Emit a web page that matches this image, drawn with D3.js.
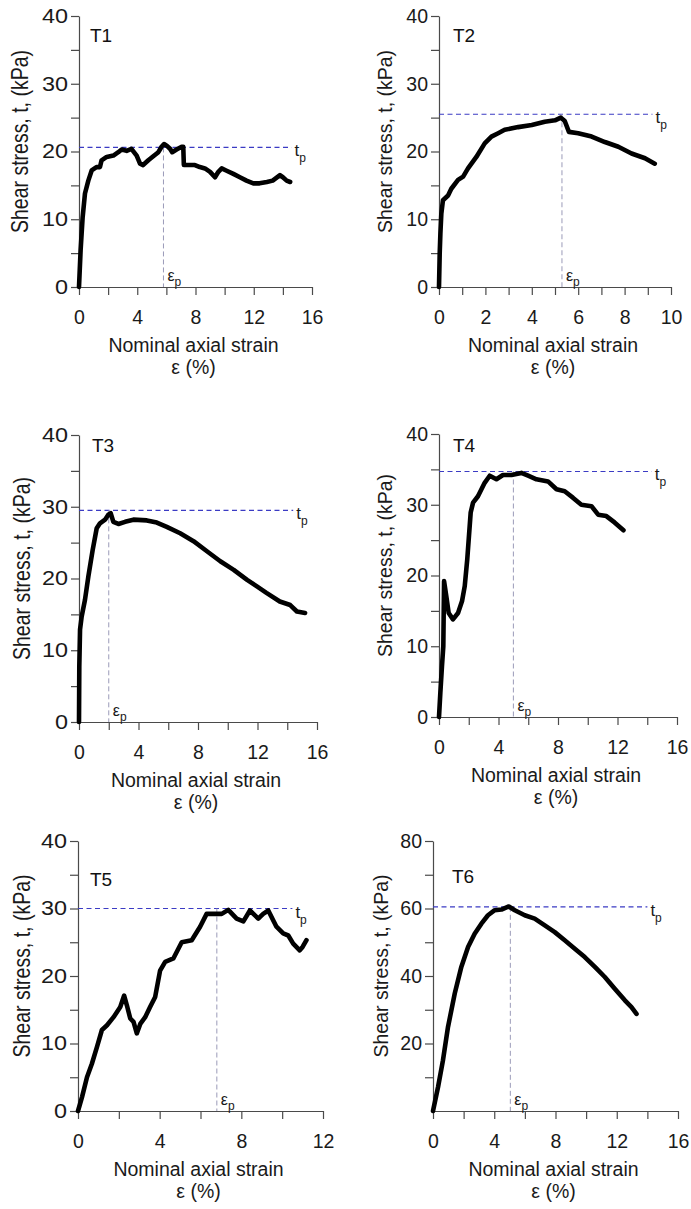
<!DOCTYPE html>
<html>
<head>
<meta charset="utf-8">
<script src="https://cdn.jsdelivr.net/npm/d3@7/dist/d3.min.js"></script>
<style>
  html, body { margin: 0; padding: 0; background: #fff; }
  svg { display: block; font-family: "Liberation Sans", Arial, sans-serif; }
</style>
</head>
<body>
<svg id="chart" width="691" height="1209"></svg>
<script>
// ---------------- DATA ----------------
const panelNames = ["T1", "T2", "T3", "T4", "T5", "T6"];

const t1Strain = [0,0.11,0.25,0.41,0.64,0.87,1.2,1.44,1.55,1.9,2.36,2.7,2.93,3.27,3.6,3.96,4.19,4.4,4.76,5.1,5.45,5.67,5.84,6.0,6.25,6.4,6.7,7.05,7.16,7.2,7.5,7.96,8.3,8.65,9.0,9.34,9.57,9.8,10.1,10.6,11.05,11.5,11.97,12.4,12.9,13.3,13.8,14.0,14.26,14.5];
const t1Stress = [0,5.4,10.3,13.8,15.7,17.2,17.7,17.7,18.7,19.2,19.4,19.9,20.3,20.1,20.4,19.4,18.2,18.0,18.7,19.3,19.9,20.7,21.1,20.9,20.4,19.9,20.3,20.7,20.7,18.0,18.0,18.0,17.7,17.5,17.0,16.2,17.0,17.5,17.2,16.7,16.2,15.7,15.3,15.3,15.5,15.7,16.5,16.2,15.7,15.5];

const t2Strain = [0,0.03,0.06,0.1,0.17,0.39,0.53,0.82,1.04,1.25,1.61,1.97,2.26,2.55,2.83,3.41,4.0,4.56,5.0,5.25,5.42,5.6,6.0,6.58,7.15,7.73,8.3,8.88,9.3];
const t2Stress = [0,4.9,7.9,10.8,12.8,13.5,14.5,15.8,16.3,17.5,19.2,21.2,22.2,22.7,23.2,23.6,23.9,24.4,24.6,25.0,24.5,22.9,22.7,22.2,21.4,20.7,19.7,19.0,18.2];

const t3Strain = [0,0.02,0.07,0.18,0.4,0.63,0.92,1.19,1.41,1.75,1.97,2.13,2.31,2.65,3.1,3.66,4.56,5.23,5.9,6.8,7.7,8.6,9.5,10.4,11.3,11.96,12.6,13.5,14.2,14.65,15.2];
const t3Stress = [0,7.7,12.9,14.7,17.0,20.3,24.0,27.0,27.7,28.2,28.9,29.1,27.9,27.6,27.9,28.2,28.1,27.8,27.2,26.3,25.2,23.8,22.4,21.2,19.8,18.9,18.0,16.8,16.3,15.4,15.2];

const t4Strain = [0,0.09,0.2,0.29,0.34,0.49,0.65,0.94,1.28,1.55,1.73,1.9,2.13,2.29,2.62,3.07,3.41,3.86,4.3,4.87,5.54,5.99,6.55,7.33,7.9,8.45,9.0,9.57,10.25,10.7,11.25,11.8,12.4];
const t4Stress = [0,3.4,7.2,10.0,19.2,17.1,14.7,13.8,14.7,16.4,18.5,22.3,28.9,30.3,31.2,33.1,34.1,33.6,34.2,34.2,34.5,34.1,33.6,33.3,32.2,31.9,31.0,30.0,29.8,28.6,28.4,27.5,26.4];

const t5Strain = [0,0.2,0.44,0.68,0.93,1.17,1.42,1.74,2.07,2.26,2.39,2.56,2.72,2.88,3.05,3.29,3.53,3.78,4.02,4.27,4.67,5.08,5.57,5.98,6.3,6.79,7.04,7.36,7.77,8.1,8.42,8.83,9.07,9.32,9.72,10.05,10.3,10.54,10.86,11.0,11.19];
const t5Stress = [0,2.1,5.0,7.0,9.5,12.0,12.7,13.9,15.4,17.1,15.7,13.7,13.2,11.5,12.9,13.9,15.4,16.9,20.8,22.1,22.6,25.0,25.3,27.3,29.2,29.2,29.2,29.8,28.5,28.1,29.7,28.5,29.2,29.7,27.3,26.3,26.0,24.8,23.8,24.3,25.3];

const t6Strain = [0,0.33,0.65,0.98,1.42,1.85,2.29,2.72,3.16,3.59,4.03,4.47,4.95,5.34,5.99,6.64,7.3,7.95,8.6,9.26,9.91,10.57,11.22,11.87,12.53,12.96,13.29];
const t6Stress = [0,7.1,15.0,24.9,34.8,42.7,48.6,52.5,55.5,58.0,59.5,59.7,60.6,59.5,58.0,57.0,55.0,53.0,50.6,48.1,45.6,42.7,39.7,36.2,32.8,30.8,28.8];

const strainSeries = [t1Strain, t2Strain, t3Strain, t4Strain, t5Strain, t6Strain];
const stressSeries = [t1Stress, t2Stress, t3Stress, t4Stress, t5Stress, t6Stress];

const xMax = [16, 10, 16, 16, 12, 16];
const yMax = [40, 40, 40, 40, 40, 80];
const peakStress = [20.6, 25.5, 29.5, 34.7, 30.0, 60.5];   // t_p
const peakStrain = [5.8, 5.3, 2.0, 5.0, 6.8, 5.05];         // ε_p
const peakLineEnd = [14.6, 9.2, 14.4, 14.3, 10.5, 14.0];    // strain where t_p dashed line stops

const xTicks16 = [0,2,4,6,8,10,12,14,16];
const xLabels16 = [0,4,8,12,16];
const xTicks10 = [0,1,2,3,4,5,6,7,8,9,10];
const xLabels10 = [0,2,4,6,8,10];
const xTicks12 = [0,2,4,6,8,10,12];
const xLabels12 = [0,4,8,12];
const yTicks40 = [0,5,10,15,20,25,30,35,40];
const yLabels40 = [0,10,20,30,40];
const yTicks80 = [10,20,30,40,50,60,70,80];
const yLabels80 = [20,40,60,80];

const xTickSets = [xTicks16, xTicks10, xTicks16, xTicks16, xTicks12, xTicks16];
const xLabelSets = [xLabels16, xLabels10, xLabels16, xLabels16, xLabels12, xLabels16];
const yTickSets = [yTicks40, yTicks40, yTicks40, yTicks40, yTicks40, yTicks80];
const yLabelSets = [yLabels40, yLabels40, yLabels40, yLabels40, yLabels40, yLabels80];

const xTitle = "Nominal axial strain";
const xUnit = "ε (%)";
const yTitle = "Shear stress, t, (kPa)";

// ---------------- LAYOUT ----------------
const frames = [
  {l: 79,  r: 312, t: 16,  b: 287, tx: 11, ty: 26, yl: 51, ys: 1.2},
  {l: 439, r: 671, t: 16,  b: 287, tx: 14, ty: 26, yl: 47, ys: 1.0},
  {l: 79,  r: 317, t: 435, b: 722, tx: 13, ty: 17, yl: 49, ys: 1.2},
  {l: 439, r: 677, t: 434, b: 717, tx: 14, ty: 18, yl: 47, ys: 1.0},
  {l: 78,  r: 323, t: 841, b: 1111, tx: 12, ty: 45, yl: 48, ys: 1.2},
  {l: 433, r: 678, t: 841, b: 1111, tx: 19, ty: 42, yl: 45, ys: 1.0}
];

const svg = d3.select("#chart");
const axisColor = "#4a4a4a";
const FONT = 19.5;

panelNames.forEach((name, i) => {
  const f = frames[i];
  const x = d3.scaleLinear().domain([0, xMax[i]]).range([f.l, f.r]);
  const y = d3.scaleLinear().domain([0, yMax[i]]).range([f.b, f.t]);
  const g = svg.append("g");

  // x axis
  const xl = new Set(xLabelSets[i]);
  const xAxis = d3.axisBottom(x).tickValues(xTickSets[i]).tickSize(8).tickSizeOuter(0)
    .tickPadding(15).tickFormat(d => xl.has(d) ? d : "");
  const gx = g.append("g").attr("transform", `translate(0,${f.b})`).call(xAxis);

  // y axis
  const yLab = new Set(yLabelSets[i]);
  const yAxis = d3.axisLeft(y).tickValues(yTickSets[i]).tickSize(8).tickSizeOuter(0)
    .tickPadding(3).tickFormat(d => yLab.has(d) ? d : "");
  const gy = g.append("g").attr("transform", `translate(${f.l},0)`).call(yAxis);

  [gx, gy].forEach(ax => {
    ax.select(".domain").attr("stroke", axisColor).attr("stroke-width", 1.2);
    ax.selectAll(".tick line").attr("stroke", axisColor).attr("stroke-width", 1.2);
    ax.selectAll(".tick text").attr("fill", "#1a1a1a").style("font-size", FONT + "px")
      .style("font-family", '"Liberation Sans", Arial, sans-serif');
  });
  gy.selectAll(".tick text")
    .attr("x", 0)
    .attr("transform", `translate(-11,0) scale(${f.ys},1)`);

  // peak dashed lines
  g.append("line")
    .attr("x1", x(0)).attr("x2", x(peakLineEnd[i]))
    .attr("y1", y(peakStress[i])).attr("y2", y(peakStress[i]))
    .attr("stroke", "#3b3bc4").attr("stroke-width", 1.2)
    .attr("stroke-dasharray", "5,3.5");
  g.append("line")
    .attr("x1", x(peakStrain[i])).attr("x2", x(peakStrain[i]))
    .attr("y1", y(peakStress[i])).attr("y2", y(0))
    .attr("stroke", "#9a9ab8").attr("stroke-width", 1)
    .attr("stroke-dasharray", "5,3");

  // data curve
  const pts = strainSeries[i].map((s, k) => [s, stressSeries[i][k]]);
  const line = d3.line().x(d => x(d[0])).y(d => y(d[1]));
  g.append("path").datum(pts)
    .attr("d", line)
    .attr("fill", "none").attr("stroke", "#000")
    .attr("stroke-width", 4.6)
    .attr("stroke-linejoin", "round").attr("stroke-linecap", "round");

  // t_p label
  const tp = g.append("text")
    .attr("x", x(peakLineEnd[i]) + 3).attr("y", y(peakStress[i]) + 9)
    .attr("fill", "#1a1a1a").style("font-size", "17px");
  tp.append("tspan").text("t");
  tp.append("tspan").attr("dy", 6).style("font-size", "12px").text("p");

  // ε_p label
  const ep = g.append("text")
    .attr("x", x(peakStrain[i]) + 4).attr("y", y(0) - 6)
    .attr("fill", "#1a1a1a").style("font-size", "16px");
  ep.append("tspan").text("ε");
  ep.append("tspan").attr("dy", 5).style("font-size", "12px").text("p");

  // panel title
  g.append("text")
    .attr("x", f.l + f.tx).attr("y", f.t + f.ty)
    .attr("fill", "#111").style("font-size", "19px").text(name);

  // x axis titles
  const cx = (f.l + f.r) / 2 - 2;
  g.append("text").attr("x", cx).attr("y", f.b + 65)
    .attr("text-anchor", "middle").attr("fill", "#1a1a1a")
    .style("font-size", FONT + "px").text(xTitle);
  g.append("text").attr("x", cx).attr("y", f.b + 87)
    .attr("text-anchor", "middle").attr("fill", "#1a1a1a")
    .style("font-size", FONT + "px").text(xUnit);

  // y axis title
  const cy = (f.t + f.b) / 2 - 10;
  g.append("text")
    .attr("transform", `translate(${f.l - f.yl},${cy}) rotate(-90) scale(1,${f.ys})`)
    .attr("text-anchor", "middle").attr("fill", "#1a1a1a")
    .style("font-size", FONT + "px").text(yTitle);
});
</script>
</body>
</html>
